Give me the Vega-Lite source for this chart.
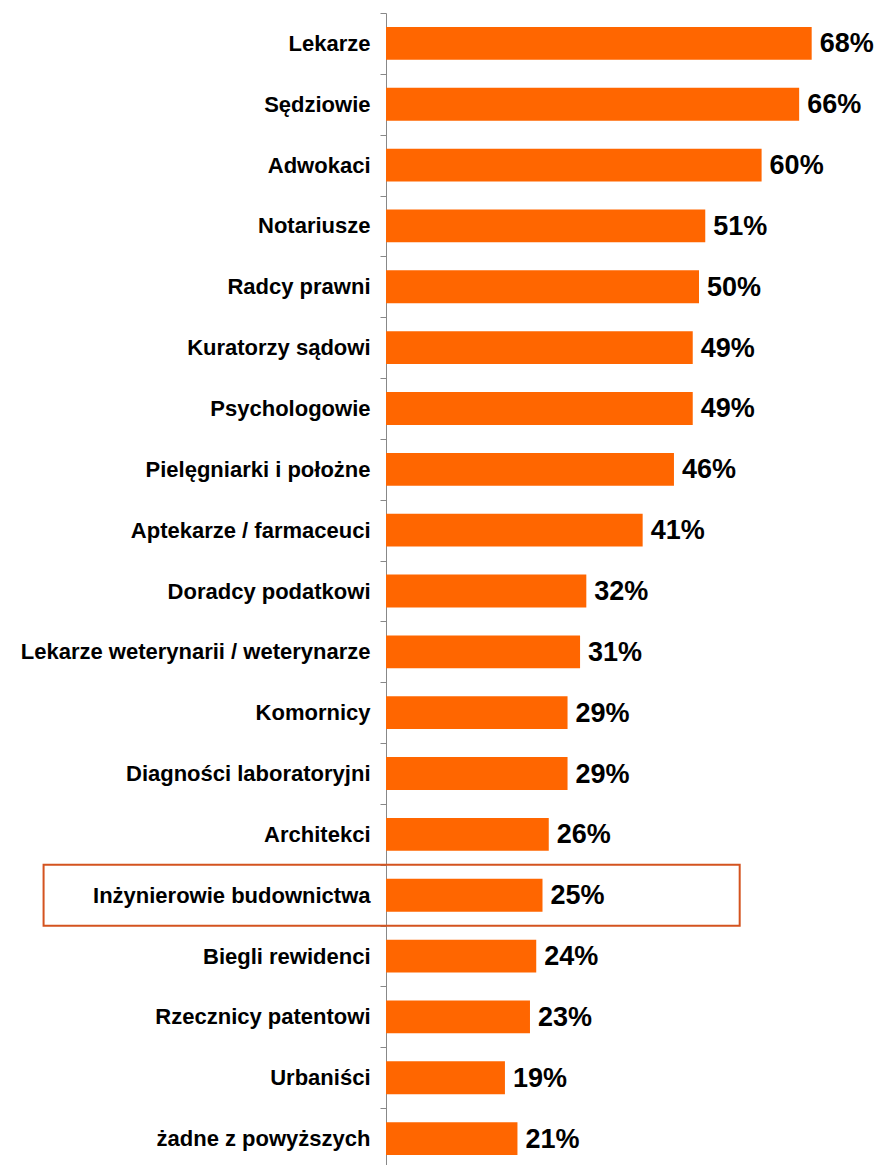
{
  "$schema": "https://vega.github.io/schema/vega-lite/v6.json",
  "width": 626,
  "height": 1156,
  "autosize": {"type": "none"},
  "padding": {"left": 386, "top": 13, "right": 0, "bottom": 0},
  "background": "white",
  "config": {"view": {"stroke": null}, "font": "Liberation Sans"},
  "data": {"values": [
    {"zawod": "Lekarze", "wartosc": 0.68},
    {"zawod": "Sędziowie", "wartosc": 0.66},
    {"zawod": "Adwokaci", "wartosc": 0.60},
    {"zawod": "Notariusze", "wartosc": 0.51},
    {"zawod": "Radcy prawni", "wartosc": 0.50},
    {"zawod": "Kuratorzy sądowi", "wartosc": 0.49},
    {"zawod": "Psychologowie", "wartosc": 0.49},
    {"zawod": "Pielęgniarki i położne", "wartosc": 0.46},
    {"zawod": "Aptekarze / farmaceuci", "wartosc": 0.41},
    {"zawod": "Doradcy podatkowi", "wartosc": 0.32},
    {"zawod": "Lekarze weterynarii / weterynarze", "wartosc": 0.31},
    {"zawod": "Komornicy", "wartosc": 0.29},
    {"zawod": "Diagności laboratoryjni", "wartosc": 0.29},
    {"zawod": "Architekci", "wartosc": 0.26},
    {"zawod": "Inżynierowie budownictwa", "wartosc": 0.25},
    {"zawod": "Biegli rewidenci", "wartosc": 0.24},
    {"zawod": "Rzecznicy patentowi", "wartosc": 0.23},
    {"zawod": "Urbaniści", "wartosc": 0.19},
    {"zawod": "żadne z powyższych", "wartosc": 0.21}
  ]},
  "encoding": {
    "y": {
      "field": "zawod", "type": "nominal", "sort": null,
      "scale": {"paddingInner": 0, "paddingOuter": 0},
      "axis": {
        "title": null, "tickBand": "extent", "domainColor": "#888888", "tickColor": "#888888",
        "tickSize": 6, "labelPadding": 10, "labelFont": "Liberation Sans", "labelFontSize": 22,
        "labelFontWeight": "bold", "labelColor": "#000000", "labelLimit": 400
      }
    }
  },
  "layer": [
    {
      "mark": {"type": "bar", "color": "#FF6600", "height": {"band": 0.54}},
      "encoding": {
        "x": {"field": "wartosc", "type": "quantitative", "scale": {"domain": [0, 1]}, "axis": null}
      }
    },
    {
      "mark": {"type": "text", "align": "left", "baseline": "middle", "dx": 8, "dy": 1, "font": "Liberation Sans", "fontSize": 27, "fontWeight": "bold", "color": "#000000"},
      "encoding": {
        "x": {"field": "wartosc", "type": "quantitative"},
        "text": {"field": "wartosc", "type": "quantitative", "format": ".0%"}
      }
    },
    {
      "transform": [{"filter": "datum.zawod === 'Inżynierowie budownictwa'"}],
      "mark": {"type": "bar", "fill": null, "stroke": "#D4531F", "strokeWidth": 2, "height": {"band": 1}, "clip": false},
      "encoding": {
        "x": {"datum": -0.547},
        "x2": {"datum": 0.565}
      }
    }
  ]
}
